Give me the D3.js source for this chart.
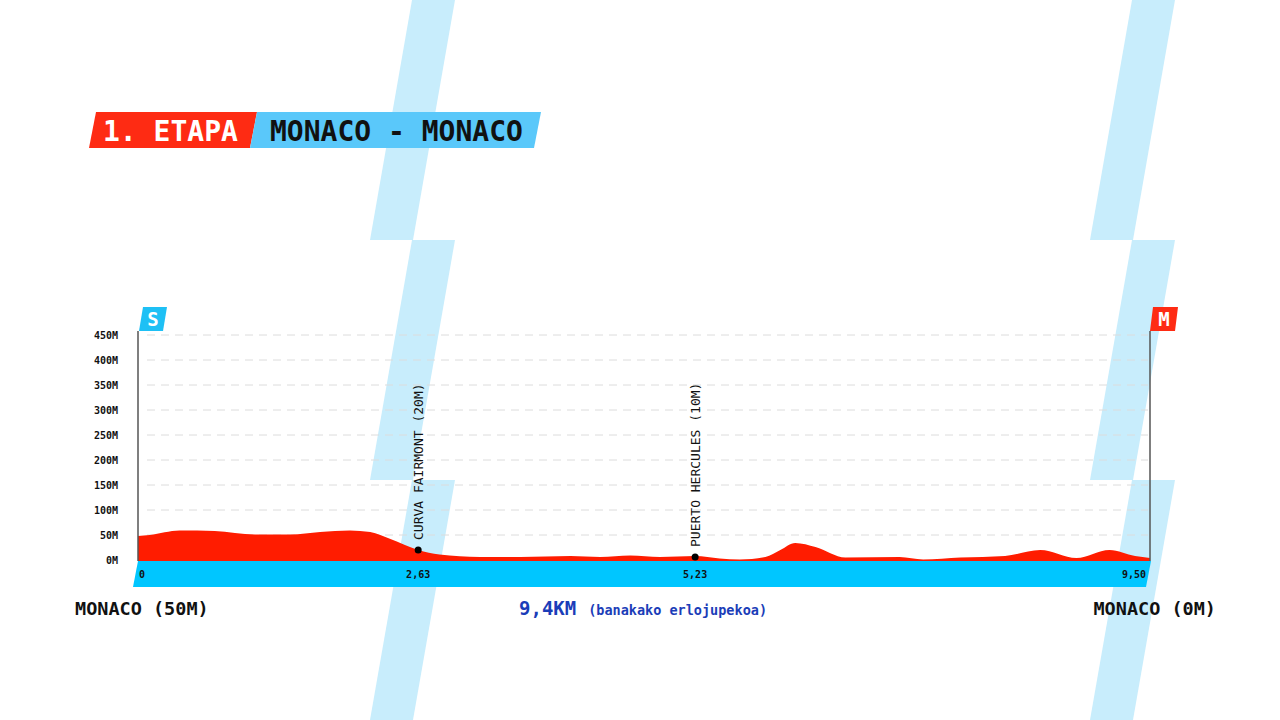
<!DOCTYPE html>
<html>
<head>
<meta charset="utf-8">
<script src="https://cdn.jsdelivr.net/npm/d3@7"></script>
<style>
  body { margin: 0; background: #fff; }
  svg { display: block; }
  text { font-family: "DejaVu Sans Mono", "Liberation Mono", monospace; }
</style>
</head>
<body>
<div id="chart"></div>
<script>
// profile points (km, metres)
const distKm = [0, 0.11, 0.39, 0.72, 1.10, 1.43, 1.71, 1.99, 2.18, 2.37, 2.63, 2.83, 3.21, 3.59,
    4.06, 4.34, 4.62, 4.90, 5.23, 5.46, 5.65, 5.89, 6.03, 6.17, 6.36, 6.64, 7.15, 7.37, 7.72,
    8.14, 8.47, 8.81, 9.12, 9.36, 9.50];
const elevM = [48, 50, 59, 58, 51, 51, 56, 59, 56, 42, 20, 11, 6, 6,
    8, 6, 9, 6, 8, 3, 1, 6, 20, 34, 26, 5, 6, 1, 5,
    8, 20, 4, 20, 8, 4];

const yTicks = [0, 50, 100, 150, 200, 250, 300, 350, 400, 450];
const kmTicks = [0, 2.63, 5.23, 9.50];
const kmTickLabels = ["0", "2,63", "5,23", "9,50"];

const climbNames = ["CURVA FAIRMONT (20M)", "PUERTO HERCULES (10M)"];
const climbKm = [2.63, 5.23];
const climbElev = [20, 6];

const stageLabel = "1. ETAPA";
const stageRoute = "MONACO - MONACO";
const startLabel = "MONACO (50M)";
const finishLabel = "MONACO (0M)";
const distanceLabel = "9,4KM";
const typeLabel = "(banakako erlojupekoa)";

const W = 1280, H = 720;
const svg = d3.select("#chart").append("svg")
    .attr("width", W)
    .attr("height", H);

// background stripes
const stripeColor = "#c8edfc";
[0, 720].forEach(function(dx) {
    [0, 240, 480].forEach(function(dy) {
        svg.append("polygon")
            .attr("points", [[412 + dx, dy], [455 + dx, dy], [413 + dx, dy + 240], [370 + dx, dy + 240]].join(" "))
            .attr("fill", stripeColor);
    });
});

// title
svg.append("polygon")
    .attr("points", "96,112 257,112 250,148 89,148")
    .attr("fill", "#fe2b13");
svg.append("polygon")
    .attr("points", "257,112 541,112 534,148 250,148")
    .attr("fill", "#5ac8fa");
svg.append("text")
    .attr("x", 103).attr("y", 141)
    .attr("fill", "#fff")
    .style("font-size", "28px").style("font-weight", "bold")
    .text(stageLabel);
svg.append("text")
    .attr("x", 270).attr("y", 141)
    .attr("fill", "#111")
    .style("font-size", "28px").style("font-weight", "bold")
    .text(stageRoute);

const x = d3.scaleLinear().domain([0, 9.5]).range([138, 1150]);
const y = d3.scaleLinear().domain([0, 450]).range([560, 335]);

// grid
svg.append("g")
    .selectAll("line")
    .data(yTicks.filter(d => d > 0))
    .enter().append("line")
    .attr("x1", 147).attr("x2", 1148)
    .attr("y1", d => y(d)).attr("y2", d => y(d))
    .attr("stroke", "#dcdcdc")
    .attr("stroke-width", 1)
    .attr("stroke-dasharray", "8,6");

// y labels
svg.append("g")
    .attr("transform", "translate(118,0)")
    .call(d3.axisLeft(y).tickValues(yTicks).tickSize(0).tickPadding(0).tickFormat(d => d + "M"))
    .call(g => g.select(".domain").remove())
    .selectAll("text")
    .attr("fill", "#111")
    .style("font-family", "'DejaVu Sans Mono', monospace")
    .style("font-size", "10px")
    .style("font-weight", "bold");

// elevation profile
const profile = distKm.map((d, i) => ({ km: d, ele: elevM[i] }));
const area = d3.area()
    .x(d => x(d.km))
    .y0(561)
    .y1(d => y(d.ele))
    .curve(d3.curveMonotoneX);
svg.append("path")
    .datum(profile)
    .attr("d", area)
    .attr("fill", "#ff1c00");

// start / finish poles
svg.append("line")
    .attr("x1", x(0)).attr("x2", x(0)).attr("y1", 331).attr("y2", 561)
    .attr("stroke", "#555").attr("stroke-width", 1.5);
svg.append("line")
    .attr("x1", x(9.5)).attr("x2", x(9.5)).attr("y1", 331).attr("y2", 561)
    .attr("stroke", "#555").attr("stroke-width", 1.5);

svg.append("polygon")
    .attr("points", "143,307 167,307 163,331 139,331")
    .attr("fill", "#1ec0f5");
svg.append("text")
    .attr("x", 153).attr("y", 326)
    .attr("text-anchor", "middle")
    .attr("fill", "#fff")
    .style("font-size", "19px").style("font-weight", "bold")
    .text("S");
svg.append("polygon")
    .attr("points", "1153,307 1178,307 1175,331 1150,331")
    .attr("fill", "#fe2b13");
svg.append("text")
    .attr("x", 1164).attr("y", 326)
    .attr("text-anchor", "middle")
    .attr("fill", "#fff")
    .style("font-size", "19px").style("font-weight", "bold")
    .text("M");

// km band
svg.append("polygon")
    .attr("points", "138,561 1151,561 1146,587 133,587")
    .attr("fill", "#00c6ff");
svg.append("g")
    .selectAll("text")
    .data(kmTicks)
    .enter().append("text")
    .attr("x", (d, i) => i === 0 ? x(d) + 1 : (i === kmTicks.length - 1 ? x(d) - 4 : x(d)))
    .attr("y", 578)
    .attr("text-anchor", (d, i) => i === 0 ? "start" : (i === kmTicks.length - 1 ? "end" : "middle"))
    .attr("fill", "#111")
    .style("font-size", "10px")
    .style("font-weight", "bold")
    .text((d, i) => kmTickLabels[i]);

// climbs
climbKm.forEach(function(km, i) {
    svg.append("circle")
        .attr("cx", x(km))
        .attr("cy", y(climbElev[i]))
        .attr("r", 3.5)
        .attr("fill", "#000");
    svg.append("text")
        .attr("transform", "translate(" + (x(km) + 5) + "," + (y(climbElev[i]) - 10) + ") rotate(-90)")
        .attr("fill", "#111")
        .style("font-size", "13px")
        .text(climbNames[i]);
});

// bottom labels
svg.append("text")
    .attr("x", 75).attr("y", 615)
    .attr("fill", "#111")
    .style("font-size", "18.5px").style("font-weight", "bold")
    .text(startLabel);
svg.append("text")
    .attr("x", 1216).attr("y", 615)
    .attr("text-anchor", "end")
    .attr("fill", "#111")
    .style("font-size", "18.5px").style("font-weight", "bold")
    .text(finishLabel);
const mid = svg.append("text")
    .attr("x", 519).attr("y", 615)
    .attr("fill", "#1b3db8");
mid.append("tspan")
    .style("font-size", "19px").style("font-weight", "bold")
    .text(distanceLabel);
mid.append("tspan")
    .attr("dx", 12)
    .style("font-size", "13.5px").style("font-weight", "bold")
    .text(typeLabel);
</script>
</body>
</html>
